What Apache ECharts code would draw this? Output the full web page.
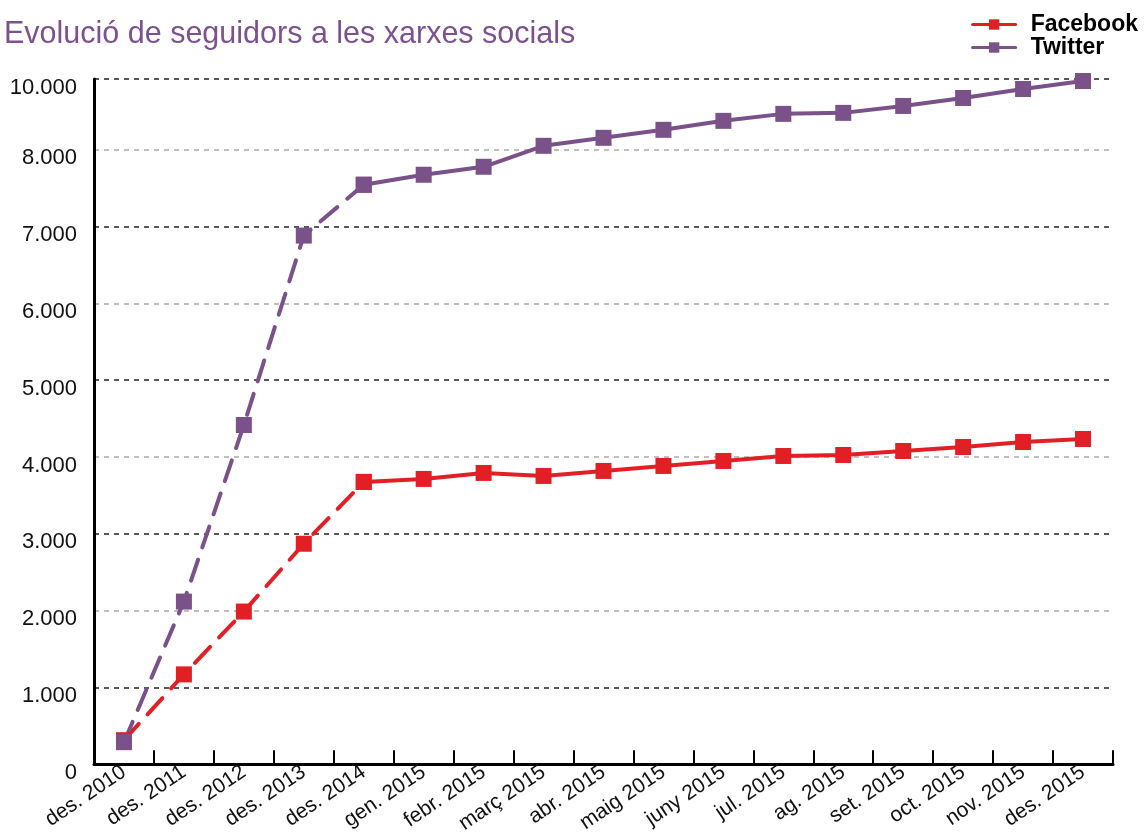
<!DOCTYPE html>
<html>
<head>
<meta charset="utf-8">
<script src="https://cdn.jsdelivr.net/npm/echarts@6/dist/echarts.min.js"></script>
<style>
  html, body { margin: 0; padding: 0; background: #fff; }
  #chart { width: 1147px; height: 836px; }
</style>
</head>
<body>
<div id="chart"></div>
<script>
var categories = ['des. 2010', 'des. 2011', 'des. 2012', 'des. 2013', 'des. 2014', 'gen. 2015', 'febr. 2015', 'març 2015', 'abr. 2015', 'maig 2015', 'juny 2015', 'jul. 2015', 'ag. 2015', 'set. 2015', 'oct. 2015', 'nov. 2015', 'des. 2015'];
var facebook = [312, 1169, 1987, 2870, 3675, 3714, 3792, 3753, 3818, 3883, 3948, 4013, 4026, 4078, 4130, 4195, 4234];
var twitter = [286, 2117, 4416, 6883, 7545, 7675, 7779, 8052, 8156, 8260, 8377, 8468, 8481, 8571, 8675, 8792, 8896];
// the yearly points (up to des. 2014) are joined by dashed lines
var lastYearly = 4;
// the top gridline carries the label 10.000
var yTop = 8922;
var yTopLabel = '10.000';

var RED = '#e31f26';
var PURPLE = '#7a5189';

function part(values, dashed) {
  return values.map(function (v, i) {
    return (dashed ? i <= lastYearly : i >= lastYearly) ? v : '-';
  });
}

function lineSeries(name, values, color, dashed) {
  return {
    name: name,
    type: 'line',
    data: part(values, dashed),
    symbol: 'rect',
    symbolSize: 16,
    showAllSymbol: true,
    connectNulls: false,
    itemStyle: { color: color },
    lineStyle: { color: color, width: 4, type: dashed ? [22, 13] : 'solid', cap: 'round' },
    emphasis: { disabled: true },
    animation: false
  };
}

function fmt(v) {
  if (v === yTop) return yTopLabel;
  return String(v).replace(/\B(?=(\d{3})+(?!\d))/g, '.');
}

var chart = echarts.init(document.getElementById('chart'));
chart.setOption({
  backgroundColor: '#fff',
  textStyle: { fontFamily: 'Liberation Sans, Arial, sans-serif' },
  title: {
    text: 'Evolució de seguidors a les xarxes socials',
    left: 4,
    top: 19,
    padding: 0,
    textStyle: { color: '#7b5190', fontSize: 30.5, fontWeight: 'normal' }
  },
  legend: {
    orient: 'vertical',
    right: 4,
    top: 8,
    itemGap: 0,
    itemWidth: 43,
    itemHeight: 13,
    data: ['Facebook', 'Twitter'],
    lineStyle: { width: 3 },
    textStyle: { color: '#000', fontSize: 23, fontWeight: 'bold', lineHeight: 23, padding: [0, 0, 0, 10] }
  },
  grid: { left: 94, right: 34, top: 79, bottom: 70 },
  xAxis: {
    type: 'category',
    data: categories,
    boundaryGap: true,
    axisLine: { lineStyle: { color: '#000', width: 3 } },
    axisTick: { show: true, inside: true, length: 14, lineStyle: { color: '#000', width: 2 } },
    axisLabel: { rotate: 34, fontSize: 21, color: '#111', margin: 6, interval: 0 },
    splitLine: { show: false }
  },
  yAxis: {
    type: 'value',
    min: 0,
    max: yTop,
    interval: 1000,
    axisLine: { show: true, lineStyle: { color: '#000', width: 3 } },
    axisTick: { show: false },
    axisLabel: { fontSize: 22, color: '#111', margin: 17, verticalAlign: 'top', lineHeight: 17, formatter: fmt, showMaxLabel: true },
    splitLine: { show: true, lineStyle: { color: ['#aaa', '#222'], type: [5, 5], width: 1.5 } }
  },
  series: [
    lineSeries('Facebook', facebook, RED, false),
    lineSeries('Facebook', facebook, RED, true),
    lineSeries('Twitter', twitter, PURPLE, false),
    lineSeries('Twitter', twitter, PURPLE, true)
  ]
});
</script>
</body>
</html>
